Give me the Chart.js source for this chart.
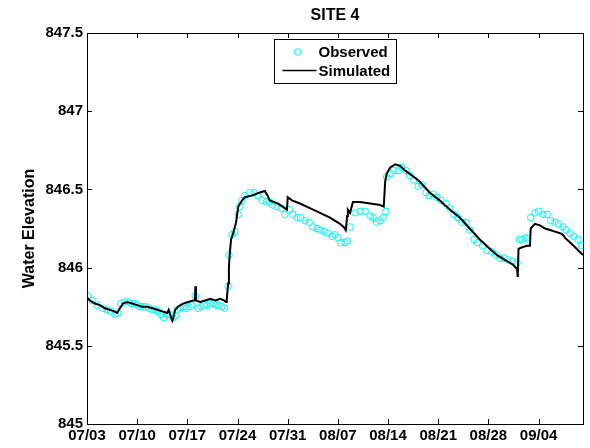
<!DOCTYPE html>
<html>
<head>
<meta charset="utf-8">
<script src="https://cdn.jsdelivr.net/npm/chart.js@4.4.0/dist/chart.umd.min.js"></script>
<style>
  html, body { margin: 0; padding: 0; background: #fff; }
  #wrap { width: 590px; height: 448px; }
</style>
</head>
<body>
<div id="wrap"><canvas id="siteChart" width="590" height="448"></canvas></div>
<script>
// days since 07/03
const obsDays = [
  0.1, 0.7, 1.4, 2.2, 2.8, 3.3, 3.9, 4.3, 4.7, 5.2, 5.7, 6.1, 6.6, 7.0, 7.4, 7.8, 8.2, 8.6, 9.1, 9.5,
  9.9, 10.3, 10.7, 11.2, 11.6, 12.0, 12.3, 12.6, 13.0, 13.4, 13.8, 14.2, 14.6, 15.1, 15.5, 15.9, 16.3, 16.7, 17.2, 17.6,
  18.0, 18.4, 18.8, 19.2, 19.7, 19.8, 20.2, 20.6, 21.1, 21.3, 21.6, 22.0, 22.7, 23.3, 23.8, 24.4, 25.0, 25.5, 25.9, 26.5,
  27.1, 27.6, 28.2, 28.7, 29.3, 29.8, 30.4, 31.0, 31.5, 32.1, 32.5, 33.1, 33.6, 34.2, 34.6, 35.0, 35.4, 36.0, 36.3, 36.7,
  37.4, 38.1, 38.8, 39.5, 39.9, 40.4, 40.9, 41.3, 41.7, 41.8, 42.3, 42.8, 43.4, 43.9, 44.5, 45.0, 45.6, 46.2, 46.7, 47.3,
  47.7, 48.3, 48.8, 49.4, 50.1, 50.6, 51.2, 51.7, 52.3, 52.9, 53.4, 54.0, 54.5, 55.2, 55.8, 56.5, 57.0, 57.6, 58.2, 58.7,
  59.3, 60.0, 60.3, 60.7, 61.1, 61.5, 61.9, 62.5, 63.0, 63.6, 64.2, 64.7, 65.3, 65.8, 66.4, 66.8, 67.4, 67.9, 68.5, 69.0
];
const obsValues = [
  845.82, 845.79, 845.76, 845.74, 845.73, 845.72, 845.70, 845.71, 845.77, 845.78, 845.78, 845.77, 845.77, 845.76, 845.75, 845.75, 845.75, 845.74, 845.73, 845.73,
  845.72, 845.70, 845.68, 845.70, 845.70, 845.68, 845.69, 845.73, 845.74, 845.75, 845.74, 845.75, 845.76, 845.82, 845.74, 845.75, 845.76, 845.76, 845.77, 845.77,
  845.76, 845.76, 845.75, 845.74, 845.88, 846.08, 846.21, 846.23, 846.34, 846.39, 846.43, 846.46, 846.48, 846.48, 846.46, 846.43, 846.42, 846.42, 846.40, 846.39,
  846.38, 846.34, 846.37, 846.34, 846.32, 846.32, 846.30, 846.29, 846.26, 846.25, 846.24, 846.23, 846.22, 846.20, 846.21, 846.19, 846.16, 846.16, 846.17, 846.26,
  846.35, 846.36, 846.36, 846.33, 846.32, 846.29, 846.30, 846.32, 846.36, 846.58, 846.60, 846.62, 846.62, 846.64, 846.62, 846.59, 846.56, 846.52, 846.53, 846.48,
  846.46, 846.47, 846.45, 846.43, 846.41, 846.38, 846.34, 846.32, 846.29, 846.29, 846.24, 846.18, 846.16, 846.14, 846.11, 846.10, 846.08, 846.06, 846.06, 846.05,
  846.04, 846.03, 846.18, 846.18, 846.19, 846.19, 846.32, 846.35, 846.36, 846.34, 846.34, 846.30, 846.29, 846.28, 846.26, 846.24, 846.22, 846.20, 846.18, 846.14
];

const simDays = [
  0, 0.4, 1.1, 1.8, 2.5, 3.2, 3.8, 4.2, 4.6, 5.0, 5.6, 6.3, 7.0, 7.7, 8.4, 9.1, 9.8, 10.5, 11.2, 11.4,
  11.6, 11.9, 12.0, 12.3, 12.7, 13.4, 14.1, 14.8, 15.06, 15.12, 15.2, 15.8, 16.5, 17.2, 17.9, 18.6, 19.1, 19.4, 19.5, 19.7,
  19.8, 19.9, 20.1, 20.4, 20.8, 21.1, 21.5, 22.0, 23.0, 24.1, 24.8, 25.2, 25.5, 26.6, 27.6, 27.9, 28.0, 28.6, 29.7, 31.1,
  32.5, 33.9, 35.3, 35.8, 36.1, 36.3, 36.4, 36.7, 37.1, 38.1, 39.5, 40.9, 41.4, 41.6, 41.8, 42.3, 43.0, 43.7, 44.4, 45.3,
  46.4, 47.8, 49.2, 49.9, 50.9, 52.0, 53.4, 54.8, 56.2, 57.2, 58.3, 59.4, 60.0, 60.1, 60.2, 60.7, 61.4, 61.8, 61.9, 62.5,
  63.2, 63.9, 64.6, 65.3, 66.0, 66.4, 66.7, 67.4, 68.1, 69.2
];
const simValues = [
  845.81, 845.79, 845.77, 845.76, 845.74, 845.73, 845.72, 845.71, 845.74, 845.77, 845.78, 845.77, 845.76, 845.75, 845.75, 845.74, 845.73, 845.72, 845.71, 845.73,
  845.70, 845.66, 845.67, 845.73, 845.75, 845.77, 845.78, 845.79, 845.79, 845.88, 845.79, 845.78, 845.79, 845.80, 845.79, 845.80, 845.79, 845.78, 845.80, 845.90,
  846.00, 846.08, 846.18, 846.22, 846.29, 846.39, 846.42, 846.45, 846.46, 846.48, 846.49, 846.46, 846.43, 846.41, 846.38, 846.37, 846.45, 846.43, 846.41, 846.38,
  846.35, 846.32, 846.28, 846.26, 846.24, 846.33, 846.37, 846.35, 846.42, 846.42, 846.41, 846.40, 846.39, 846.55, 846.60, 846.64, 846.66, 846.65, 846.62, 846.59,
  846.55, 846.48, 846.43, 846.40, 846.36, 846.32, 846.25, 846.18, 846.12, 846.08, 846.05, 846.02, 845.99, 845.94, 846.12, 846.13, 846.14, 846.14, 846.25, 846.28,
  846.27, 846.25, 846.24, 846.23, 846.22, 846.21, 846.19, 846.16, 846.13, 846.08
];

const xTickLabels = ["07/03", "07/10", "07/17", "07/24", "07/31", "08/07", "08/14", "08/21", "08/28", "09/04"];
const yTickLabels = ["845", "845.5", "846", "846.5", "847", "847.5"];
const legendNames = ["Observed", "Simulated"];

const FONT = "'Liberation Sans', Arial, sans-serif";

// MATLAB style box with inward ticks + boxed legend
const matlabFrame = {
  id: "matlabFrame",
  afterDraw(chart) {
    const { ctx, chartArea: a, scales } = chart;
    ctx.save();
    ctx.strokeStyle = "#000";
    ctx.lineWidth = 1;
    const t = 5;
    ctx.beginPath();
    scales.x.ticks.forEach(tk => {
      const px = Math.round(scales.x.getPixelForValue(tk.value)) + 0.5;
      ctx.moveTo(px, a.bottom); ctx.lineTo(px, a.bottom - t);
      ctx.moveTo(px, a.top); ctx.lineTo(px, a.top + t);
    });
    scales.y.ticks.forEach(tk => {
      const py = Math.round(scales.y.getPixelForValue(tk.value)) + 0.5;
      ctx.moveTo(a.left, py); ctx.lineTo(a.left + t, py);
      ctx.moveTo(a.right, py); ctx.lineTo(a.right - t, py);
    });
    ctx.stroke();
    ctx.strokeRect(Math.round(a.left) + 0.5, Math.round(a.top) + 0.5,
      Math.round(a.right - a.left), Math.round(a.bottom - a.top));

    // legend
    const w = 122, h = 44;
    const lx = Math.round((a.left + a.right) / 2 - w / 2) + 0.5;
    const ly = Math.round(a.top + 6) + 0.5;
    ctx.fillStyle = "#fff";
    ctx.fillRect(lx, ly, w, h);
    ctx.strokeRect(lx, ly, w, h);
    const obs = chart.data.datasets[1];
    const sim = chart.data.datasets[0];
    ctx.strokeStyle = obs.borderColor;
    ctx.beginPath();
    ctx.arc(lx + 23, ly + 12.5, 3.3, 0, Math.PI * 2);
    ctx.stroke();
    ctx.strokeStyle = sim.borderColor;
    ctx.lineWidth = 1.5;
    ctx.beginPath();
    ctx.moveTo(lx + 8, ly + 31); ctx.lineTo(lx + 42, ly + 31);
    ctx.stroke();
    ctx.fillStyle = "#000";
    ctx.font = "bold 15px " + FONT;
    ctx.textBaseline = "middle";
    ctx.textAlign = "left";
    ctx.fillText(legendNames[0], lx + 44, ly + 13);
    ctx.fillText(legendNames[1], lx + 44, ly + 32);
    ctx.restore();
  }
};

const ctx = document.getElementById("siteChart").getContext("2d");
new Chart(ctx, {
  type: "scatter",
  data: {
    datasets: [
      {
        label: legendNames[1],
        data: simDays.map((d, i) => ({ x: d, y: simValues[i] })),
        showLine: true,
        borderColor: "#000000",
        borderWidth: 2,
        pointRadius: 0,
        tension: 0,
        order: 0,
      },
      {
        label: legendNames[0],
        data: obsDays.map((d, i) => ({ x: d, y: obsValues[i] })),
        showLine: false,
        borderColor: "#00FFFF",
        backgroundColor: "rgba(0,0,0,0)",
        pointRadius: 3.3,
        pointBorderWidth: 1,
        order: 1,
      },
    ],
  },
  options: {
    responsive: false,
    animation: false,
    layout: { padding: { left: 0, right: 7, top: 0, bottom: 0 } },
    plugins: {
      legend: { display: false },
      tooltip: { enabled: false },
      title: {
        display: true,
        text: "SITE 4",
        fullSize: false,
        color: "#000",
        font: { family: FONT, size: 16, weight: "bold", lineHeight: 1.2 },
        padding: { top: 6.4, bottom: 7.4 },
      },
    },
    scales: {
      x: {
        type: "linear",
        min: 0,
        max: 69.2,
        grid: { display: false, drawTicks: false },
        border: { display: false },
        ticks: {
          stepSize: 7,
          includeBounds: false,
          autoSkip: false,
          maxRotation: 0,
          padding: 3,
          color: "#000",
          font: { family: FONT, size: 15, weight: "bold" },
          callback: v => xTickLabels[Math.round(v / 7)],
        },
        afterFit: s => { s.height = 24; },
      },
      y: {
        min: 845,
        max: 847.5,
        grid: { display: false, drawTicks: false },
        border: { display: false },
        ticks: {
          stepSize: 0.5,
          padding: 4,
          color: "#000",
          font: { family: FONT, size: 15, weight: "bold" },
          callback: v => yTickLabels[Math.round((v - 845) / 0.5)],
        },
        title: {
          display: true,
          text: "Water Elevation",
          color: "#000",
          font: { family: FONT, size: 16, weight: "bold", lineHeight: 1.2 },
          padding: { top: 20, bottom: 0 },
        },
        afterFit: s => { s.width = 87; },
      },
    },
  },
  plugins: [matlabFrame],
});
</script>
</body>
</html>
